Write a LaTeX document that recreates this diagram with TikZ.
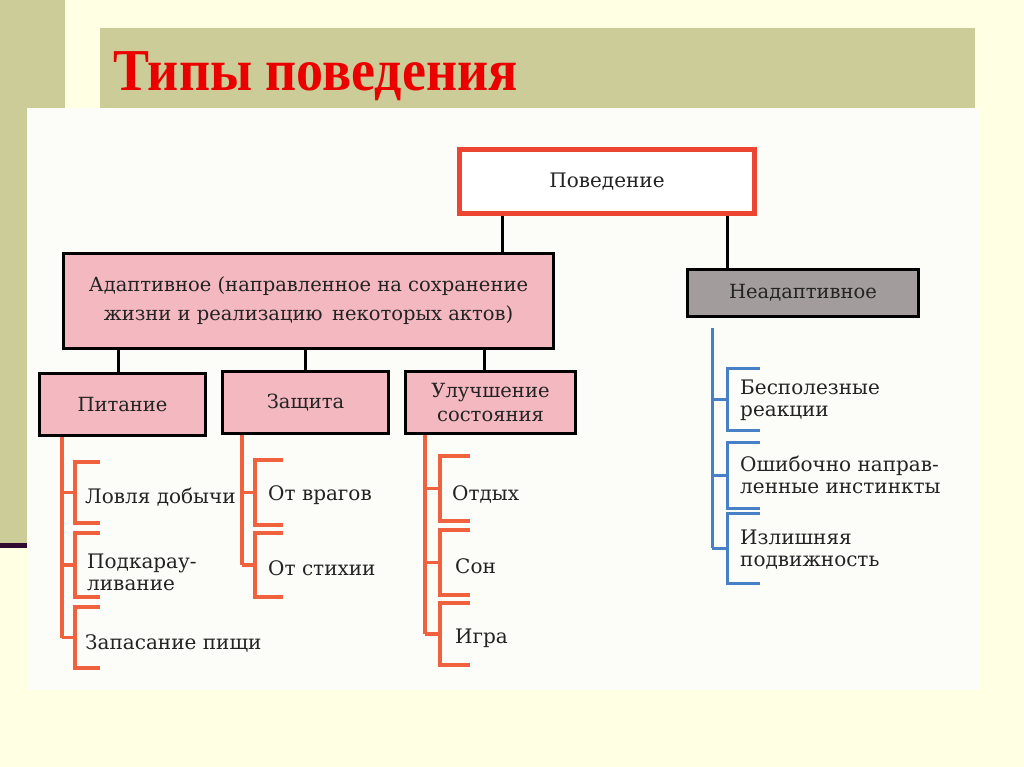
\documentclass[tikz,border=0pt]{standalone}
\usepackage{fontspec}
\setmainfont{DejaVu Serif}
\newfontfamily\titlefont{Liberation Serif}
\definecolor{cream}{RGB}{255,255,228}
\definecolor{olive}{RGB}{204,204,153}
\definecolor{paper}{RGB}{252,252,248}
\definecolor{pinkbox}{RGB}{243,184,192}
\definecolor{graybox}{RGB}{163,156,156}
\definecolor{redframe}{RGB}{236,70,50}
\definecolor{orangeline}{RGB}{240,98,62}
\definecolor{blueline}{RGB}{72,128,200}
\definecolor{ink}{RGB}{35,35,35}
\definecolor{darkline}{RGB}{48,10,48}
\definecolor{titlered}{RGB}{235,0,0}
\newcommand\mybrk[6]{%
  \draw[#1] (#4,#5) -- (#3,#5) -- (#3,#6) -- (#4,#6);
  \draw[#1] (#2,{(#5+#6)/2}) -- (#3,{(#5+#6)/2});
}
\begin{document}
\begin{tikzpicture}[x=1pt,y=-1pt,
  box/.style={draw=black, line width=3pt, fill=pinkbox, text=ink,
    font=\fontsize{19.5}{29}\selectfont, align=center, inner sep=0pt},
  link/.style={black, line width=3pt},
  leaf/.style={anchor=west, text=ink, font=\fontsize{20}{22}\selectfont,
    align=left, inner sep=0pt},
  otree/.style={orangeline, line width=3.5pt},
  btree/.style={blueline, line width=3pt},
]
\useasboundingbox (0,0) rectangle (1024,767);
% background
\fill[cream] (0,0) rectangle (1024,767);
\fill[olive] (0,0) rectangle (65,543);
\fill[darkline] (0,543) rectangle (60,548);
\fill[olive] (100,28) rectangle (975,108);
\node[anchor=base west, inner sep=0pt, text=titlered, yscale=1.1,
  font=\titlefont\bfseries\fontsize{54}{60}\selectfont] (title) at (113,91) {Типы поведения};
\fill[paper] (27,108) rectangle (980,690);

% top box
\node[draw=redframe, fill=white, line width=5pt, text=ink, inner sep=0pt,
  minimum width=295pt, minimum height=64pt,
  font=\fontsize{20}{22}\selectfont] (pov) at (607,181.5) {Поведение};

% level 2
\node[box, minimum width=490pt, minimum height=95pt] (adapt) at (308.5,301)
  {Адаптивное (направленное на сохранение\\жизни и реализацию\, некоторых актов)};
\node[box, fill=graybox, minimum width=231pt, minimum height=47pt] (neadapt) at (803,293) {Неадаптивное};

\coordinate (ca) at (502,0);
\coordinate (cn) at (727,0);
\draw[link] (pov.south -| ca) -- (adapt.north -| ca);
\draw[link] (pov.south -| cn) -- (neadapt.north -| cn);

% level 3
\node[box, minimum width=166pt, minimum height=62pt] (pit) at (122.5,404.5) {Питание};
\node[box, minimum width=166pt, minimum height=62pt] (zash) at (305.5,402.5) {Защита};
\node[box, minimum width=170pt, minimum height=62pt, font=\fontsize{19.5}{24}\selectfont] (ulu) at (490.5,402.5) {Улучшение\\состояния};

\coordinate (c1) at (118,0);
\coordinate (c2) at (305,0);
\coordinate (c3) at (484,0);
\draw[link] (adapt.south -| c1) -- (pit.north -| c1);
\draw[link] (adapt.south -| c2) -- (zash.north -| c2);
\draw[link] (adapt.south -| c3) -- (ulu.north -| c3);

% Питание tree
\coordinate (t1) at (62,637.5);
\draw[otree] (pit.south -| t1) -- (t1);
\mybrk{otree}{62}{75}{100}{462}{523}
\mybrk{otree}{62}{75}{100}{533}{597}
\mybrk{otree}{62}{75}{100}{607}{668}
\node[leaf] (l11) at (85,497) {Ловля добычи};
\node[leaf] (l12) at (87,572) {Подкарау-\\ливание};
\node[leaf] (l13) at (85,643) {Запасание пищи};

% Защита tree
\coordinate (t2) at (242,565);
\draw[otree] (zash.south -| t2) -- (t2);
\mybrk{otree}{242}{255}{283}{460}{525}
\mybrk{otree}{242}{255}{283}{533}{597}
\node[leaf] (l21) at (268,495) {От врагов};
\node[leaf] (l22) at (268,568) {От стихии};

% Улучшение tree
\coordinate (t3) at (425,634);
\draw[otree] (ulu.south -| t3) -- (t3);
\mybrk{otree}{425}{440}{470}{456}{521}
\mybrk{otree}{425}{440}{470}{530}{595}
\mybrk{otree}{425}{440}{470}{603}{665}
\node[leaf] (l31) at (452,494) {Отдых};
\node[leaf] (l32) at (455,566) {Сон};
\node[leaf] (l33) at (455,638) {Игра};

% Неадаптивное tree
\coordinate (t4) at (712,548);
\draw[btree] ([yshift=-10pt]neadapt.south -| t4) -- (t4);
\mybrk{btree}{712}{727}{760}{368}{430}
\mybrk{btree}{712}{727}{760}{442}{508}
\mybrk{btree}{712}{727}{760}{513}{583}
\node[leaf] (l41) at (740,400) {Бесполезные\\реакции};
\node[leaf] (l42) at (740,475) {Ошибочно направ-\\ленные инстинкты};
\node[leaf] (l43) at (740,550) {Излишняя\\подвижность};
\end{tikzpicture}
\end{document}
